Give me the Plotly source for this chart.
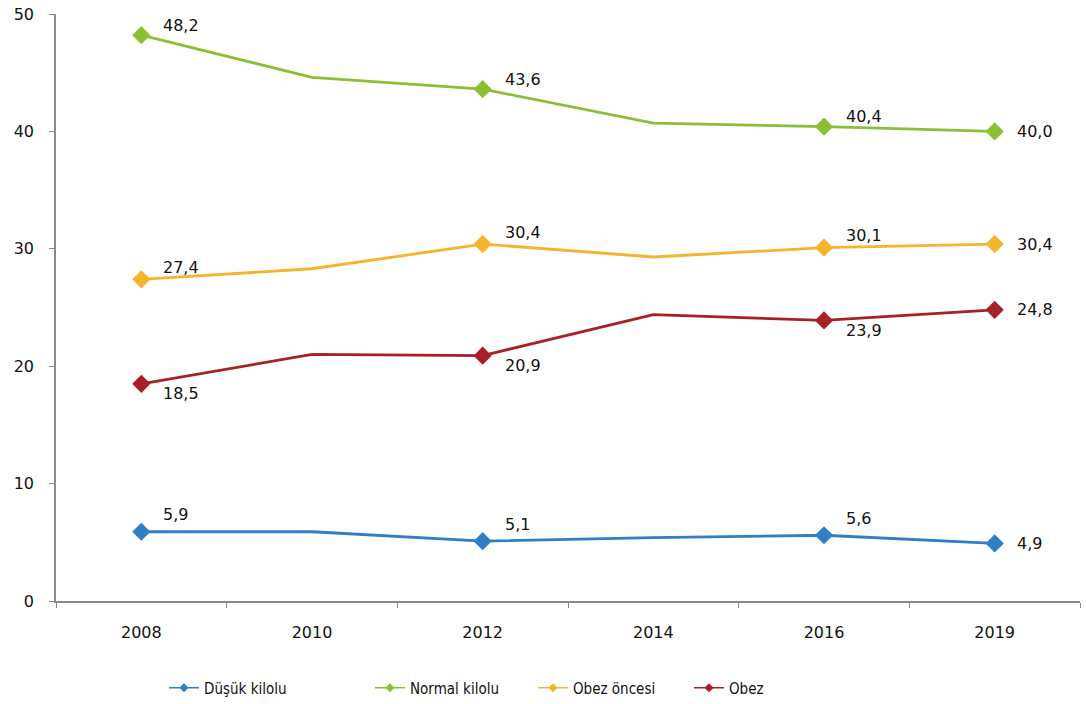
import plotly.graph_objects as go

years = ["2008", "2010", "2012", "2014", "2016", "2019"]
dusuk = [5.9, 5.9, 5.1, 5.4, 5.6, 4.9]
normal = [48.2, 44.6, 43.6, 40.7, 40.4, 40.0]
obez_oncesi = [27.4, 28.3, 30.4, 29.3, 30.1, 30.4]
obez = [18.5, 21.0, 20.9, 24.4, 23.9, 24.8]
labelled = [True, False, True, False, True, True]

# name, values, colour, label shift (px, + = below), legend id, legend left px
series = [
    ("Düşük kilolu", dusuk, "#2f7ec6", -17, "legend", 164),
    ("Normal kilolu", normal, "#8cc034", -10, "legend2", 370),
    ("Obez öncesi", obez_oncesi, "#f6b42c", -12, "legend3", 533),
    ("Obez", obez, "#a91f28", 10, "legend4", 689),
]

fig = go.Figure()
lab_font = dict(family="DejaVu Sans", size=16, color="#111")
for name, vals, color, dy, lg, lx in series:
    sizes = [14 if lab else 0 for lab in labelled]
    fig.add_trace(go.Scatter(
        x=years, y=vals, name=name, mode="lines+markers", showlegend=False,
        line=dict(color=color, width=2.8),
        marker=dict(symbol="diamond", size=sizes, color=color, opacity=1, line=dict(width=0)),
        cliponaxis=False,
    ))
    # legend-only entry
    fig.add_trace(go.Scatter(
        x=[None], y=[None], name=name, mode="lines+markers", legend=lg,
        line=dict(color=color, width=1.5),
        marker=dict(symbol="diamond", size=7, color=color),
    ))
    n = len(vals)
    for i, (v, lab) in enumerate(zip(vals, labelled)):
        if not lab:
            continue
        shift = 0 if i == n - 1 else dy
        fig.add_annotation(x=i, y=v, xref="x", yref="y",
                           text=f"{v:.1f}".replace(".", ","), showarrow=False,
                           xanchor="left", yanchor="middle", xshift=20, yshift=-shift,
                           font=lab_font)

leg_common = dict(orientation="h", yref="container", y=1 - 688 / 704, yanchor="middle",
                  xref="container", xanchor="left",
                  font=dict(family="DejaVu Sans Condensed, DejaVu Sans", size=15, color="#111"),
                  bgcolor="rgba(0,0,0,0)")
legends = {}
for name, vals, color, dy, lg, lx in series:
    legends[lg] = dict(leg_common, x=lx / 1086)

fig.update_layout(
    width=1086, height=704,
    margin=dict(l=56, r=6, t=14, b=103, autoexpand=False),
    paper_bgcolor="white", plot_bgcolor="white",
    font=dict(family="DejaVu Sans", size=16, color="#111"),
    showlegend=True,
    xaxis=dict(type="category", range=[-0.5, 5.5], showline=True, linecolor="#8a8a8a", linewidth=1.5,
               ticks="outside", tickson="boundaries", ticklen=5, tickcolor="#8a8a8a",
               showgrid=False, zeroline=False, ticklabelstandoff=16,
               tickfont=dict(family="DejaVu Sans", size=16)),
    yaxis=dict(range=[0, 50], dtick=10, showline=True, linecolor="#8a8a8a", linewidth=1.5,
               ticks="outside", ticklen=5, tickcolor="#8a8a8a", showgrid=False, zeroline=False,
               ticklabelstandoff=12, tickfont=dict(family="DejaVu Sans", size=16)),
    **legends,
)

fig.write_html("out.html")
